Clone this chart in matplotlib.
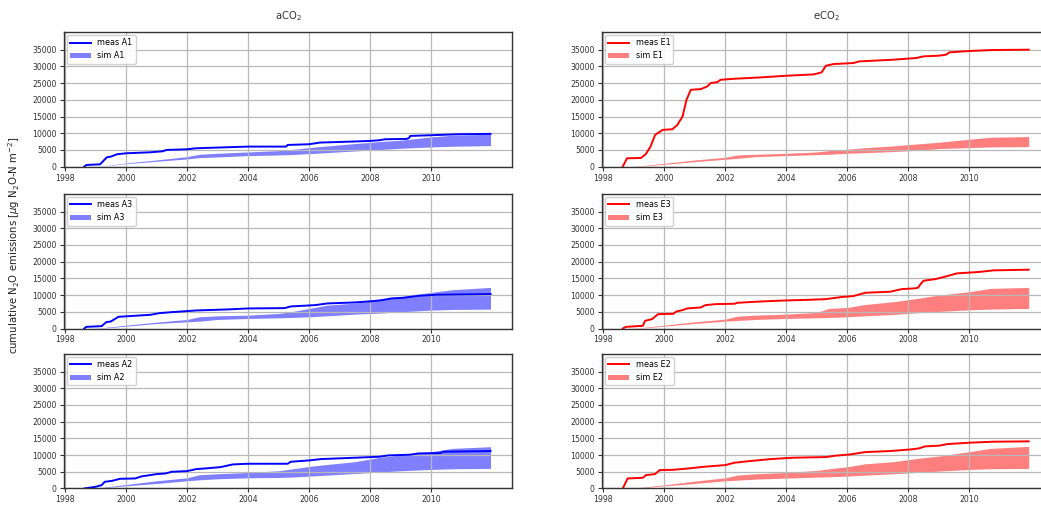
import matplotlib
matplotlib.use('Agg')
import matplotlib.pyplot as plt

# measured cumulative N2O (decimal year, ug N2O-N m-2)
meas_A1_x = [1998.63, 1998.7, 1999.15, 1999.37, 1999.5, 1999.7, 2000.0, 2000.8, 2001.2, 2001.33, 2002.0, 2002.3,
             2003.3, 2004.0, 2005.25, 2005.3, 2006.0, 2006.35, 2007.4, 2008.0, 2008.3, 2008.5, 2009.2, 2009.28,
             2009.32, 2010.0, 2010.9, 2011.95]
meas_A1_y = [0, 500, 700, 2800, 3000, 3700, 4000, 4300, 4600, 5000, 5200, 5500,
             5800, 6000, 6000, 6500, 6700, 7200, 7500, 7700, 7900, 8200, 8300, 8600,
             9200, 9400, 9700, 9800]

meas_A3_x = [1998.63, 1998.7, 1999.2, 1999.35, 1999.5, 1999.75, 2000.1, 2000.8, 2001.1, 2001.5, 2002.0, 2002.3,
             2003.3, 2004.0, 2005.2, 2005.4, 2006.2, 2006.6, 2007.5, 2008.1, 2008.4, 2008.7, 2009.1, 2009.6,
             2010.2, 2011.95]
meas_A3_y = [0, 500, 700, 1900, 2100, 3500, 3700, 4100, 4600, 4900, 5200, 5400,
             5700, 6000, 6100, 6600, 7000, 7500, 7800, 8200, 8500, 9000, 9200, 9800,
             10100, 10300]

meas_A2_x = [1998.63, 1999.0, 1999.2, 1999.3, 1999.55, 1999.8, 2000.3, 2000.5, 2001.0, 2001.3, 2001.5, 2002.0,
             2002.3, 2002.6, 2003.1, 2003.5, 2004.0, 2005.3, 2005.4, 2006.0, 2006.4, 2007.5, 2008.3, 2008.6,
             2009.3, 2009.6, 2010.3, 2010.4, 2011.95]
meas_A2_y = [0, 500, 1000, 2000, 2300, 2900, 3000, 3600, 4300, 4500, 5000, 5200,
             5800, 6000, 6400, 7200, 7400, 7400, 8000, 8400, 8800, 9200, 9500, 9900,
             10100, 10500, 10600, 11000, 11200]

meas_E1_x = [1998.64, 1998.78, 1999.24, 1999.4, 1999.55, 1999.7, 1999.95, 2000.27, 2000.43, 2000.6, 2000.73,
             2000.87, 2001.2, 2001.41, 2001.52, 2001.74, 2001.85, 2002.3, 2003.15, 2004.0, 2004.9, 2005.16,
             2005.3, 2005.55, 2006.2, 2006.4, 2007.5, 2008.26, 2008.5, 2009.0, 2009.24, 2009.35, 2010.0,
             2010.76, 2011.95]
meas_E1_y = [0, 2500, 2600, 3800, 6000, 9500, 11000, 11200, 12500, 15000, 20000,
             23000, 23200, 24000, 25000, 25300, 26000, 26300, 26700, 27200, 27600, 28200,
             30200, 30700, 31000, 31500, 32000, 32500, 33000, 33200, 33500, 34200, 34600,
             34900, 35000]

meas_E3_x = [1998.64, 1998.75, 1999.3, 1999.37, 1999.6, 1999.8, 2000.3, 2000.4, 2000.6, 2000.75, 2001.2, 2001.35,
             2001.7, 2002.3, 2002.4, 2003.2, 2004.0, 2004.8, 2005.3, 2005.8, 2006.2, 2006.6, 2007.4, 2007.8,
             2008.2, 2008.32, 2008.38, 2008.5, 2008.9, 2009.2, 2009.6, 2010.3, 2010.8, 2011.95]
meas_E3_y = [0, 500, 800, 2300, 2800, 4300, 4400, 5100, 5500, 6000, 6300, 7000,
             7300, 7400, 7700, 8100, 8400, 8600, 8800, 9400, 9700, 10700, 11000, 11800,
             12000, 12200, 13000, 14300, 14800, 15500, 16500, 16900, 17400, 17600]

meas_E2_x = [1998.64, 1998.8, 1999.3, 1999.4, 1999.7, 1999.85, 2000.3, 2000.8, 2001.3, 2002.0, 2002.3, 2002.8,
             2003.5, 2004.2, 2005.3, 2005.6, 2006.1, 2006.6, 2007.4, 2008.1, 2008.35, 2008.55, 2009.0, 2009.3,
             2010.0, 2010.8, 2011.95]
meas_E2_y = [0, 3000, 3200, 4000, 4300, 5500, 5600, 6000, 6500, 7000, 7700, 8200,
             8800, 9200, 9400, 9800, 10200, 10900, 11200, 11700, 12000, 12600, 12800, 13300,
             13700, 14000, 14100]

# simulated range (lower / upper edge)
band_years = [1998.9, 1999.5, 2000.0, 2001.0, 2002.0, 2002.4, 2003.0, 2004.0, 2005.0, 2005.4,
              2006.0, 2006.6, 2007.5, 2008.3, 2009.0, 2010.0, 2010.7, 2011.95]
sim_A1_lo = [0, 400, 900, 1600, 2300, 2700, 2900, 3300, 3500, 3600, 3900, 4200, 4700, 5100, 5500, 5900, 6100, 6300]
sim_A1_hi = [0, 500, 1100, 2000, 3000, 3700, 4000, 4400, 4800, 5100, 5700, 6200, 6900, 7500, 7900, 8900, 9400, 9700]
sim_A3_lo = [0, 300, 700, 1500, 2000, 2200, 2700, 3000, 3200, 3300, 3500, 3800, 4300, 4600, 5000, 5500, 5700, 5800]
sim_A3_hi = [0, 500, 1000, 1900, 2700, 3500, 3800, 4000, 4500, 5000, 6000, 7000, 7600, 8500, 9500, 10800, 11600, 12300]
sim_A2_lo = [0, 400, 800, 1500, 2300, 2600, 2900, 3200, 3300, 3400, 3700, 4000, 4500, 4900, 5300, 5700, 5900, 6000]
sim_A2_hi = [0, 600, 1200, 2300, 3200, 4100, 4400, 4800, 5300, 5800, 6600, 7200, 8000, 9300, 10000, 11000, 12000, 12500]
sim_E1_lo = [0, 300, 700, 1500, 2200, 2500, 3000, 3300, 3600, 3700, 4000, 4200, 4500, 4900, 5400, 5700, 5900, 6000]
sim_E1_hi = [0, 500, 1000, 2000, 2800, 3500, 3700, 4000, 4400, 4800, 5200, 5700, 6200, 6800, 7300, 8200, 8800, 9000]
sim_E3_lo = [0, 300, 700, 1500, 2200, 2400, 2700, 3000, 3200, 3300, 3500, 3800, 4200, 4700, 5100, 5600, 5800, 6000]
sim_E3_hi = [0, 500, 1000, 2000, 2800, 3700, 4000, 4300, 4800, 6000, 6300, 7200, 8000, 9000, 10000, 11000, 12000, 12300]
sim_E2_lo = [0, 400, 800, 1500, 2300, 2500, 2800, 3100, 3400, 3500, 3700, 4000, 4400, 4800, 5200, 5700, 5900, 6000]
sim_E2_hi = [0, 600, 1100, 2200, 3200, 4000, 4400, 4800, 5400, 5900, 6500, 7400, 8000, 9000, 9700, 11000, 12000, 12600]

yticks = [0, 5000, 10000, 15000, 20000, 25000, 30000, 35000]
xticks = [1998, 2000, 2002, 2004, 2006, 2008, 2010]

panels = [
    ('A1', meas_A1_x, meas_A1_y, sim_A1_lo, sim_A1_hi, 'b', 0, 0),
    ('A3', meas_A3_x, meas_A3_y, sim_A3_lo, sim_A3_hi, 'b', 1, 0),
    ('A2', meas_A2_x, meas_A2_y, sim_A2_lo, sim_A2_hi, 'b', 2, 0),
    ('E1', meas_E1_x, meas_E1_y, sim_E1_lo, sim_E1_hi, 'r', 0, 1),
    ('E3', meas_E3_x, meas_E3_y, sim_E3_lo, sim_E3_hi, 'r', 1, 1),
    ('E2', meas_E2_x, meas_E2_y, sim_E2_lo, sim_E2_hi, 'r', 2, 1),
]

fig = plt.figure(figsize=(10.41, 5.05), dpi=100)
lefts = [0.061, 0.578]
bottoms = [0.670, 0.3495, 0.0327]
w, h = 0.4313, 0.2667

axes = {}
for name, mx, my, lo, hi, col, r, c in panels:
    ax = fig.add_axes([lefts[c], bottoms[r], w, h])
    axes[(r, c)] = ax
    ax.plot(mx, my, color=col, lw=1.4, label='meas ' + name)
    ax.fill_between(band_years, lo, hi, color=col, alpha=0.5, lw=0, label='sim ' + name)
    ax.set_xlim(1997.95, 2012.67)
    ax.set_ylim(0, 40300)
    ax.set_xticks(xticks)
    ax.set_yticks(yticks)
    ax.tick_params(labelsize=5.6, length=3, width=0.8, pad=2, colors='#333333')
    ax.grid(True, color='#b8b8b8', lw=0.9)
    for s in ax.spines.values():
        s.set_linewidth(1.0)
        s.set_color('#333333')
    ax.legend(loc='upper left', fontsize=5.8, handlelength=2.6, borderaxespad=0.4,
              framealpha=0.9, edgecolor='#cccccc', fancybox=True)

axes[(0, 0)].set_title('aCO$_2$', fontsize=7.2, pad=9, color='#333333')
axes[(0, 1)].set_title('eCO$_2$', fontsize=7.2, pad=9, color='#333333')
fig.text(0.014, 0.515, 'cumulative N$_2$O emissions [$\\mu$g N$_2$O-N m$^{-2}$]',
         rotation=90, va='center', ha='center', fontsize=7.3, color='#222222')

fig.savefig('out.png', dpi=100)
